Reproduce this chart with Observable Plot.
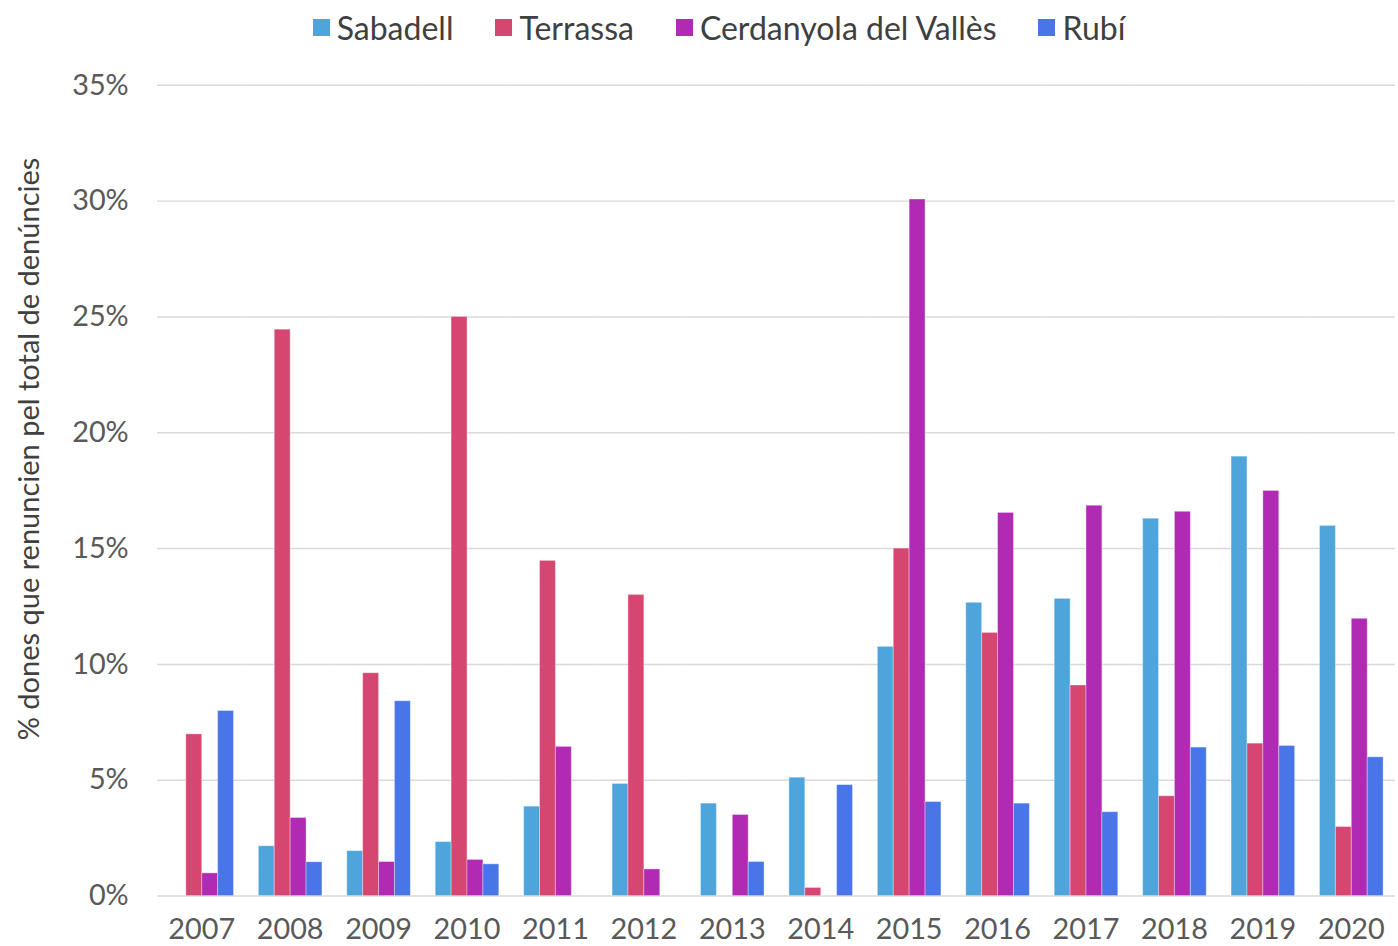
<!DOCTYPE html>
<html>
<head>
<meta charset="utf-8">
<script src="https://cdn.jsdelivr.net/npm/d3@7"></script>
<script src="https://cdn.jsdelivr.net/npm/@observablehq/plot@0.6"></script>
<style>
  html, body { margin: 0; padding: 0; background: #fff; overflow: hidden; width: 1398px; height: 946px; }
  body { font-family: Lato, "Noto Sans", sans-serif; position: relative; }
  #legend { height: 55px; display: flex; justify-content: center; align-items: center; gap: 42px; padding-left: 40px; box-sizing: border-box; width: 1398px; font-size: 32px; color: #404040; }
  #legend .item { display: flex; align-items: center; gap: 7px; }
  #legend .sw { width: 17px; height: 17px; display: inline-block; }
  #ytitle { position: absolute; left: 27px; top: 449px; transform: translate(-50%, -50%) rotate(-90deg); white-space: nowrap; font-size: 29px; color: #404040; }
  #chart svg { display: block; overflow: visible; }
</style>
</head>
<body>
<div id="legend"></div>
<div id="chart"></div>
<div id="ytitle">% dones que renuncien pel total de denúncies</div>
<script>
const years = ["2007", "2008", "2009", "2010", "2011", "2012", "2013", "2014", "2015", "2016", "2017", "2018", "2019", "2020"];
const cities = ["Sabadell", "Terrassa", "Cerdanyola del Vallès", "Rubí"];
const colors = ["#4EA5DC", "#D54770", "#B02AB4", "#4876E8"];
const sabadell   = [null, 2.15, 1.94, 2.33, 3.86, 4.84, 3.99, 5.11, 10.76, 12.66, 12.83, 16.29, 18.97, 15.98];
const terrassa   = [6.98, 24.45, 9.62, 25.0, 14.47, 13.0, null, 0.35, 15.0, 11.36, 9.09, 4.31, 6.58, 2.98];
const cerdanyola = [0.98, 3.37, 1.47, 1.56, 6.44, 1.15, 3.5, null, 30.07, 16.54, 16.85, 16.59, 17.49, 11.97];
const rubi       = [7.99, 1.46, 8.41, 1.37, null, null, 1.47, 4.79, 4.06, 3.99, 3.62, 6.41, 6.48, 5.99];
const yTicks = [0, 5, 10, 15, 20, 25, 30, 35];

const series = [sabadell, terrassa, cerdanyola, rubi];
const data = [];
years.forEach((yr, i) => {
  cities.forEach((c, j) => {
    const v = series[j][i];
    if (v != null) data.push({year: yr, city: c, value: v});
  });
});

// legend
const legend = document.getElementById("legend");
cities.forEach((c, j) => {
  const item = document.createElement("div");
  item.className = "item";
  const sw = document.createElement("span");
  sw.className = "sw";
  sw.style.background = colors[j];
  const t = document.createElement("span");
  t.textContent = c;
  item.appendChild(sw);
  item.appendChild(t);
  legend.appendChild(item);
});

const chart = Plot.plot({
  width: 1407,
  height: 897,
  marginLeft: 155,
  marginRight: 0,
  marginTop: 30,
  marginBottom: 51,
  style: {fontFamily: "Lato, 'Noto Sans', sans-serif", fontSize: "29px", color: "#595959", background: "transparent"},
  fx: {domain: years, padding: 0, label: null, axis: "bottom", tickSize: 0, tickPadding: 23},
  x: {domain: cities, paddingInner: 0, paddingOuter: 0.75, axis: null},
  y: {domain: [0, 35], label: null, axis: null},
  color: {domain: cities, range: colors},
  marks: [
    Plot.gridY(yTicks, {stroke: "#d9d9d9", strokeOpacity: 1, strokeWidth: 1.5}),
    Plot.barY(data, {fx: "year", x: "city", y: "value", fill: "city", stroke: "white", strokeOpacity: 0.35, strokeWidth: 1}),
    Plot.axisY(yTicks, {tickSize: 0, tickPadding: 29, tickFormat: d => d + "%", label: null, fontSize: 29})
  ]
});
document.getElementById("chart").appendChild(chart);
</script>
</body>
</html>
